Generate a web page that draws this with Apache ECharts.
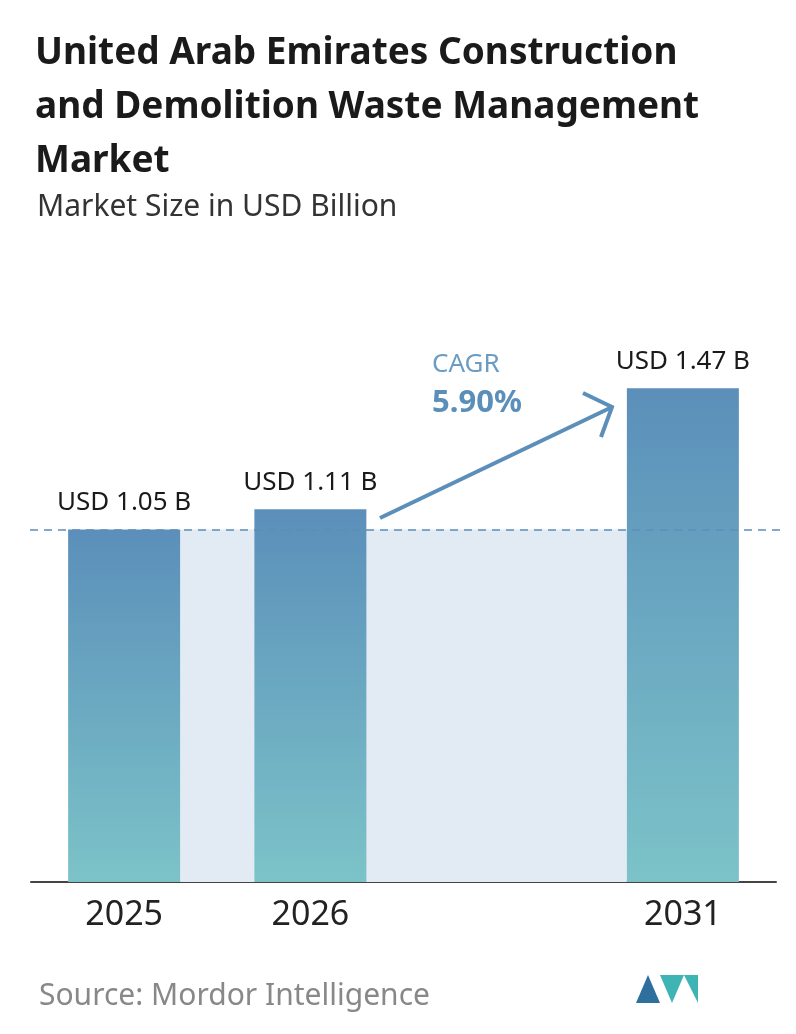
<!DOCTYPE html>
<html><head><meta charset="utf-8">
<script src="https://cdn.jsdelivr.net/npm/echarts@6/dist/echarts.min.js"></script>
<style>html,body{margin:0;padding:0;background:#fff}#c{width:796px;height:1034px}</style>
</head><body><div id="c"></div>
<script>
const categories = ['2025', '2026', '', '2031'];
const values = [1.05, 1.11, null, 1.47];
const labels = ['USD 1.05 B', 'USD 1.11 B', '', 'USD 1.47 B'];
const cagr = '5.90%';
const BW = 112;

const chart = echarts.init(document.getElementById('c'));
const grad = new echarts.graphic.LinearGradient(0, 0, 0, 1, [
  {offset: 0, color: '#5b8fba'}, {offset: 1, color: '#7cc3c8'}]);
chart.setOption({
  animation: false,
  title: [
    {text: 'United Arab Emirates Construction\nand Demolition Waste Management\nMarket', left: 30, top: 21,
     textStyle: {fontFamily: 'Noto Sans', fontSize: 37, fontWeight: 'bold', color: '#1a1a1a', lineHeight: 54}},
    {text: 'Market Size in USD Billion', left: 32, top: 187,
     textStyle: {fontFamily: 'Noto Sans', fontSize: 30, fontWeight: 'normal', color: '#333'}},
    {text: 'Source: Mordor Intelligence', left: 34, top: 976,
     textStyle: {fontFamily: 'Noto Sans', fontSize: 30, fontWeight: 'normal', color: '#888'}}
  ],
  grid: {left: 31, right: 20, top: 207, bottom: 152},
  xAxis: {type: 'category', data: categories,
    axisLine: {lineStyle: {color: '#444', width: 2}}, axisTick: {show: false},
    axisLabel: {fontFamily: 'Noto Sans', fontSize: 34, color: '#222', margin: 16}},
  yAxis: {type: 'value', min: 0, max: 2.01, show: false, splitLine: {show: false}},
  series: [{
    type: 'custom', silent: true, z: 1, data: [[0, 3, 1.05]],
    renderItem: (params, api) => {
      const a = api.coord([api.value(0), api.value(2)]);
      const b = api.coord([api.value(1), 0]);
      return {type: 'rect', shape: {x: a[0] + BW / 2, y: a[1], width: b[0] - a[0] - BW, height: b[1] - a[1]},
        style: {fill: '#e2ebf3'}};
    }
  }, {
    type: 'bar', data: values, barWidth: BW, z: 2, itemStyle: {color: grad},
    label: {show: true, position: 'top', distance: 14, fontFamily: 'Noto Sans', fontSize: 26, color: '#1a1a1a',
      formatter: p => labels[p.dataIndex]},
    markLine: {silent: true, symbol: 'none', label: {show: false},
      lineStyle: {type: [8, 6], color: '#5b8fba', width: 1.5},
      data: [[{x: 30, yAxis: 1.05}, {x: 786, yAxis: 1.05}]]}
  }],
  graphic: [
    {type: 'line', shape: {x1: 380, y1: 518, x2: 610, y2: 408}, style: {stroke: '#5b8fba', lineWidth: 4}},
    {type: 'polyline', shape: {points: [[583, 393], [612, 407], [601, 437]]}, style: {stroke: '#5b8fba', lineWidth: 4, fill: null}},
    {type: 'text', left: 432, top: 352, style: {text: 'CAGR', font: '26px "Noto Sans"', fill: '#6a9cc4'}},
    {type: 'text', left: 432, top: 388, style: {text: cagr, font: 'bold 31px "Noto Sans"', fill: '#5b8fba'}},
    {type: 'polygon', shape: {points: [[636, 1003], [648, 975], [660, 1003]]}, style: {fill: '#2f6f9e'}},
    {type: 'polygon', shape: {points: [[660, 975], [672, 1003], [684, 975], [698, 1003], [698, 975]]}, style: {fill: '#3fb4b4'}}
  ]
});
</script></body></html>
